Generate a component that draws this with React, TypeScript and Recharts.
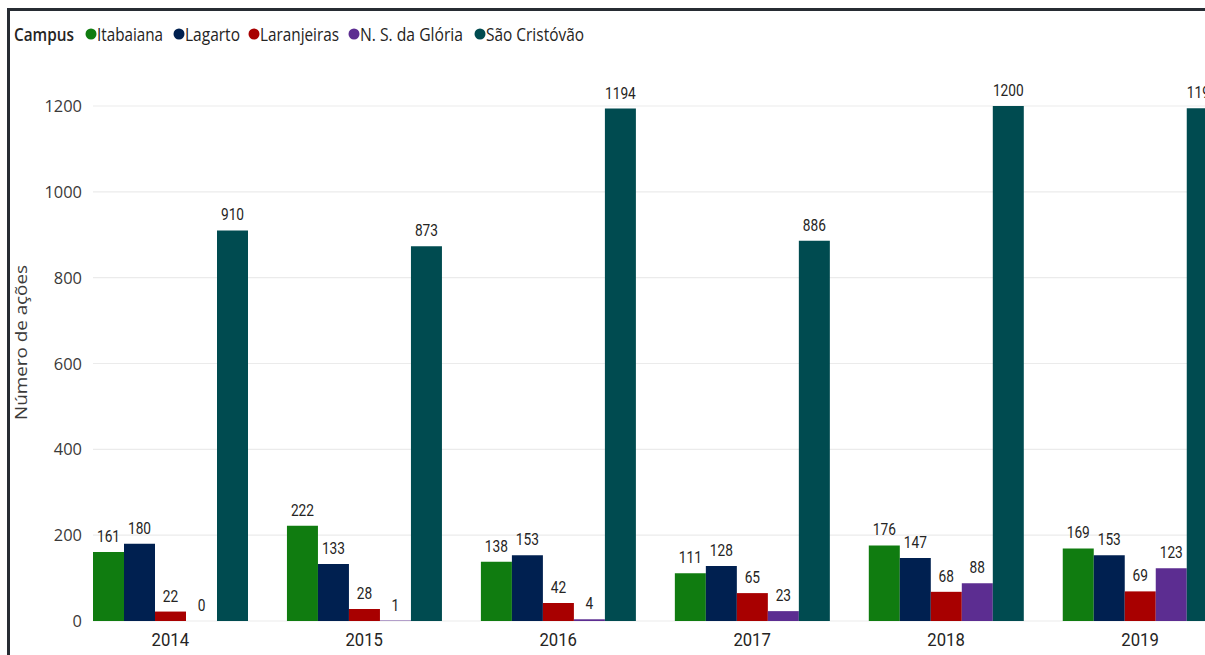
import React from 'react';
import { BarChart, Bar, XAxis, YAxis, CartesianGrid, LabelList } from 'recharts';

const years = ['2014', '2015', '2016', '2017', '2018', '2019'];
const itabaiana = [161, 222, 138, 111, 176, 169];
const lagarto = [180, 133, 153, 128, 147, 153];
const laranjeiras = [22, 28, 42, 65, 68, 69];
const nsGloria = [0, 1, 4, 23, 88, 123];
const saoCristovao = [910, 873, 1194, 886, 1200, 1195];
const yTicks = [0, 200, 400, 600, 800, 1000, 1200];

const SERIES = [
  { key: 'Itabaiana', values: itabaiana, color: '#107C10' },
  { key: 'Lagarto', values: lagarto, color: '#002050' },
  { key: 'Laranjeiras', values: laranjeiras, color: '#A80000' },
  { key: 'N. S. da Glória', values: nsGloria, color: '#5C2D91' },
  { key: 'São Cristóvão', values: saoCristovao, color: '#004B50' },
];

const data = years.map((y, i) => {
  const row: Record<string, any> = { year: y };
  SERIES.forEach(s => { row[s.key] = s.values[i]; });
  return row;
});

const uiFont = '"Open Sans", "Noto Sans", sans-serif';
const numFont = 'Roboto, "DejaVu Sans", sans-serif';

// posições da legenda (fonte estreita, por isso textLength)
const legendItems = [
  { x: 97, w: 66 },
  { x: 185, w: 55 },
  { x: 260, w: 79 },
  { x: 360, w: 103 },
  { x: 486, w: 98 },
];

const YTick = (props: any) => {
  const { x, y, payload } = props;
  const s = String(payload.value);
  return (
    <text x={x} y={y} dy="0.36em" textAnchor="end" fontFamily={uiFont} fontSize={17} fill="#3b3a39"
      textLength={s.length * 9.4} lengthAdjust="spacingAndGlyphs">{s}</text>
  );
};

const XTick = (props: any) => {
  const { x, y, payload } = props;
  const s = String(payload.value);
  return (
    <text x={x} y={y} dy="0.95em" textAnchor="middle" fontFamily={numFont} fontSize={17.5} fill="#252423"
      textLength={37.5} lengthAdjust="spacingAndGlyphs">{s}</text>
  );
};

const renderValue = (props: any) => {
  const { x, y, width, value } = props;
  const s = String(value);
  return (
    <text x={Number(x) + Number(width) / 2} y={Number(y) - 10} textAnchor="middle" fontFamily={numFont}
      fontSize={16.5} fill="#252423" textLength={s.length * 7.7} lengthAdjust="spacingAndGlyphs">{s}</text>
  );
};

export default function App() {
  return (
    <div style={{ position: 'fixed', left: 0, top: 0, width: 1205, height: 655, overflow: 'hidden', background: '#fff' }}>
      {/* moldura do visual */}
      <div style={{ position: 'absolute', left: 7, top: 8, width: 1300, height: 700, borderTop: '3px solid #272c33', borderLeft: '3px solid #272c33' }} />

      <div style={{ position: 'absolute', left: 0, top: 0 }}>
        <BarChart
          width={1300}
          height={655}
          data={data}
          margin={{ top: 106, right: 63, bottom: 4, left: 33 }}
          barCategoryGap={19.7}
          barGap={0}
        >
          <CartesianGrid vertical={false} stroke="#ebebeb" strokeWidth={1.2} />
          <XAxis
            dataKey="year"
            axisLine={false}
            tickLine={false}
            height={30}
            padding={{ left: -19.7, right: 0 }}
            tick={<XTick />}
          />
          <YAxis
            width={60}
            domain={[0, 1200]}
            ticks={yTicks}
            axisLine={false}
            tickLine={false}
            tickMargin={5}
            tick={<YTick />}
          />
          {SERIES.map(s => (
            <Bar key={s.key} dataKey={s.key} fill={s.color} minPointSize={0.01} isAnimationActive={false}>
              <LabelList dataKey={s.key} content={renderValue} />
            </Bar>
          ))}
        </BarChart>
      </div>

      {/* legenda e título do eixo Y */}
      <svg width={1205} height={655} style={{ position: 'absolute', left: 0, top: 0, pointerEvents: 'none' }}>
        <text x={14} y={41} fontFamily={uiFont} fontSize={18} fontWeight={600} fill="#252423"
          textLength={60} lengthAdjust="spacingAndGlyphs">Campus</text>
        {SERIES.map((s, i) => (
          <g key={s.key}>
            <circle cx={legendItems[i].x - 6} cy={34} r={5.5} fill={s.color} />
            <text x={legendItems[i].x} y={41} fontFamily={uiFont} fontSize={18} fill="#252423"
              textLength={legendItems[i].w} lengthAdjust="spacingAndGlyphs">{s.key}</text>
          </g>
        ))}
        <text transform="translate(27, 420) rotate(-90)" x={0} y={0} fontFamily={uiFont} fontSize={17}
          fill="#3b3a39" textLength={155} lengthAdjust="spacingAndGlyphs">Número de ações</text>
      </svg>
    </div>
  );
}
